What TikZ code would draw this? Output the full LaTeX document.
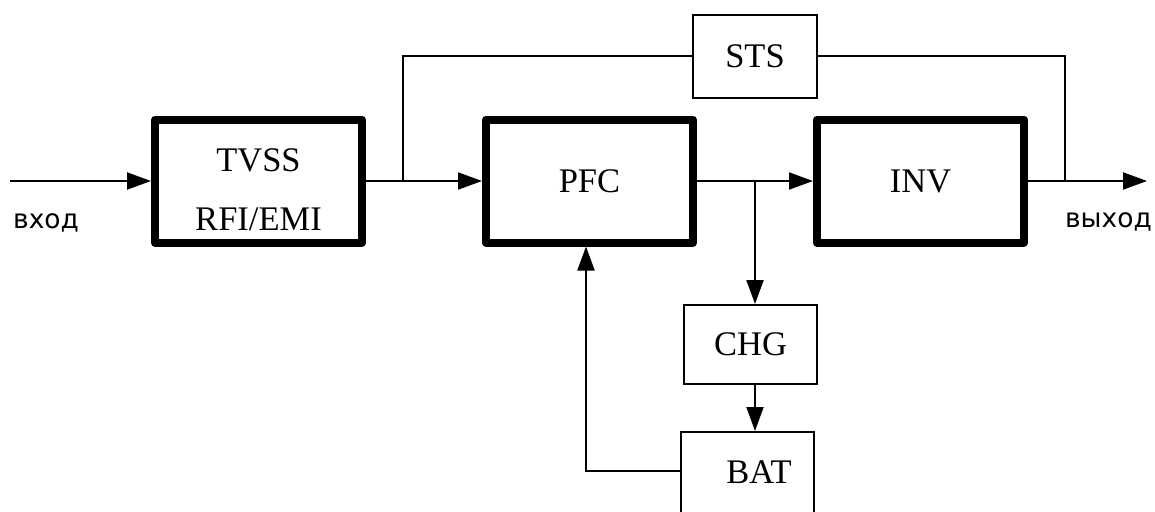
\documentclass[tikz,border=0pt]{standalone}
\usepackage{fontspec}
\setmainfont{Liberation Serif}
\newfontfamily\labsans{DejaVu Sans}
\usetikzlibrary{arrows.meta}
\begin{document}
\begin{tikzpicture}[x=1pt,y=-1pt,
  mainbox/.style={draw, line width=8pt, line join=round, minimum width=207pt, minimum height=123pt, inner sep=0pt},
  thinbox/.style={draw, line width=2pt, inner sep=0pt},
  lbl/.style={font=\fontsize{34.5}{40}\selectfont, inner sep=0pt},
  iolbl/.style={font=\labsans\fontsize{26.5}{32}\selectfont, inner sep=0pt},
  wire/.style={line width=2pt},
  arr/.style={wire, -{Triangle[length=24pt,width=17pt]}}]
\useasboundingbox (0,0) rectangle (1155,511);
\clip (0,0) rectangle (1155,511);
\fill[white] (0,0) rectangle (1155,511);
% blocks
\node[mainbox] (tvss) at (258.5,181) {};
\node[lbl, anchor=base] (tvsst) at (258.5,171) {TVSS};
\node[lbl, anchor=base] (rfit) at (258.5,230) {RFI/EMI};
\node[mainbox, lbl, line width=8pt, minimum width=207pt, minimum height=123pt, draw] (pfc) at (589.5,181) {PFC};
\node[mainbox, lbl, line width=8pt, minimum width=207pt, minimum height=123pt, draw] (inv) at (920.5,181) {INV};
\node[thinbox, lbl, draw, line width=2pt, minimum width=124pt, minimum height=83pt] (sts) at (755,56.5) {STS};
\node[thinbox, lbl, draw, line width=2pt, minimum width=133pt, minimum height=79pt] (chg) at (750.5,344.5) {CHG};
\node[thinbox, minimum width=133pt, minimum height=110pt, anchor=north] (bat) at (747.5,431) {};
\node[lbl, anchor=base] (batt) at (759,483) {BAT};
% labels
\node[iolbl, anchor=base west] (vhod) at (13,228) {вход};
\node[iolbl, anchor=base east] (vyhod) at (1152,227) {выход};
% connectors
\coordinate (in) at (10,181);
\coordinate (out) at (1147,181);
\coordinate (j1) at (403,181);
\coordinate (j2) at (1065,181);
\coordinate (j3) at (755,181);
\coordinate (fb) at (586,471);
\draw[arr] (in) -- (tvss.west);
\draw[arr] (tvss.east) -- (pfc.west);
\draw[arr] (pfc.east) -- (inv.west);
\draw[arr] (inv.east) -- (out);
\draw[wire] (j1) |- (sts.west);
\draw[wire] (sts.east) -| (j2);
\draw[arr] (j3) -- (j3 |- chg.north);
\draw[arr] (j3 |- chg.south) -- (j3 |- bat.north);
\draw[arr] (fb -| bat.west) -- (fb) -- (fb |- pfc.south);
\end{tikzpicture}
\end{document}
